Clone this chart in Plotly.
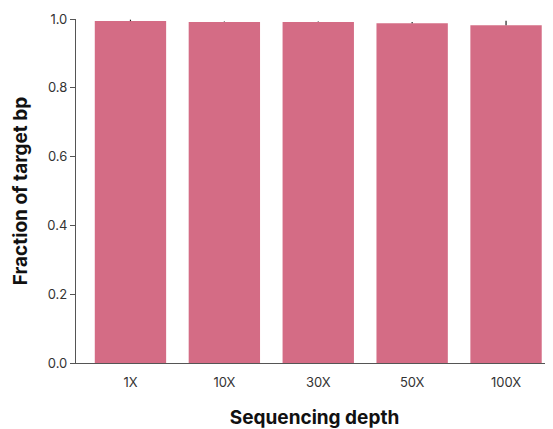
import plotly.graph_objects as go

categories = ["1X", "10X", "30X", "50X", "100X"]
values = [0.994, 0.991, 0.991, 0.988, 0.982]
errors = [0.004, 0.002, 0.002, 0.003, 0.013]
y_ticks = [0.0, 0.2, 0.4, 0.6, 0.8, 1.0]

fig = go.Figure(go.Bar(
    x=categories, y=values,
    marker=dict(color="#d46c85", line=dict(width=0)),
    error_y=dict(type="data", array=errors, symmetric=False, arrayminus=[0]*5,
                 color="#222222", thickness=1.2, width=0),
))

font_family = "Inter, Noto Sans, sans-serif"
fig.update_layout(
    width=545, height=421,
    margin=dict(l=68, r=0, t=11, b=66, autoexpand=False),
    plot_bgcolor="white", paper_bgcolor="white",
    bargap=0.24,
    showlegend=False,
    font=dict(family=font_family, size=13, color="#222222"),
    xaxis=dict(
        range=[-0.58, 4.5],
        showline=True, linecolor="#555555", linewidth=1.2,
        ticks="", showgrid=False, automargin=False,
        ticklabelstandoff=7,
        tickfont=dict(size=13, color="#333333"),
        title=dict(text="<b>Sequencing depth</b>", font=dict(size=19, color="#111111", family=font_family), standoff=24),
    ),
    yaxis=dict(
        range=[0, 1.0],
        tickvals=y_ticks, ticktext=[f"{v:.1f}" for v in y_ticks],
        showline=True, linecolor="#555555", linewidth=1.2,
        ticks="outside", ticklen=5, tickcolor="#555555",
        showgrid=False, zeroline=False, automargin=False,
        tickfont=dict(size=13, color="#333333"),
        title=dict(text="<b>Fraction of target bp</b>", font=dict(size=19, color="#111111", family=font_family), standoff=14),
    ),
)
fig.write_html("out.html")
